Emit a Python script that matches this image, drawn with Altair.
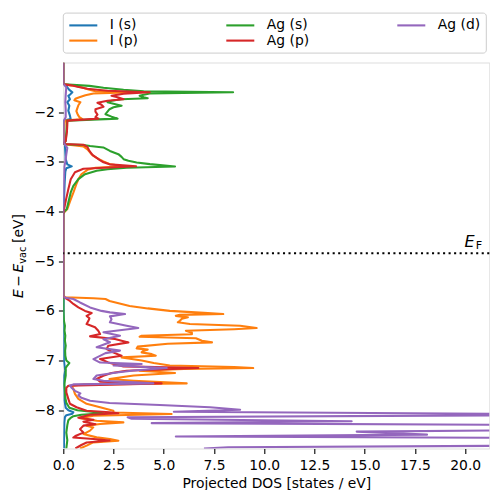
import altair as alt
import pandas as pd

# ---------------- data ----------------
SERIES = ["I (s)", "I (p)", "Ag (s)", "Ag (p)", "Ag (d)"]          # drawing + legend order
COLORS = {"I (s)": "#1f77b4", "I (p)": "#ff7f0e", "Ag (s)": "#2ca02c",
          "Ag (p)": "#d62728", "Ag (d)": "#9467bd"}

X_MAX = 21.2
Y_MIN, Y_MAX = -8.77, -1.0
E_FERMI = -4.84
X_TICKS = [0.0, 2.5, 5.0, 7.5, 10.0, 12.5, 15.0, 17.5, 20.0]
Y_TICKS = [-8, -7, -6, -5, -4, -3, -2]

# (energy [eV], projected DOS)
I_S = [(-1.00, 0), (-1.42, 0), (-1.44, 0.05), (-1.50, 0.2), (-1.55, 0.3), (-1.60, 0.45),
       (-1.64, 0.35), (-1.67, 0.25), (-1.74, 0.33), (-1.80, 0.2), (-1.87, 0.3), (-1.97, 0.25),
       (-2.07, 0.33), (-2.14, 0.37), (-2.17, 0.03), (-2.30, 0.02), (-2.50, 0.02), (-2.62, 0.03),
       (-2.66, 0.08), (-2.80, 0.1), (-2.95, 0.12), (-3.05, 0.2), (-3.09, 0.42), (-3.13, 0.15),
       (-3.20, 0.1), (-3.40, 0.07), (-3.70, 0.04), (-3.95, 0.02), (-4.05, 0), (-5.70, 0),
       (-5.75, 0.02), (-6.00, 0.01), (-6.50, 0.01), (-7.00, 0.03), (-7.15, 0.08), (-7.20, 0.1),
       (-7.30, 0.04), (-7.45, 0.03), (-7.50, 0.05), (-7.60, 0.05), (-7.80, 0.06), (-7.95, 0.12),
       (-8.00, 0.25), (-8.04, 0.5), (-8.07, 0.45), (-8.10, 0.15), (-8.14, 0.08), (-8.25, 0.05),
       (-8.50, 0.04), (-8.77, 0.03)]

I_P = [(-1.00, 0), (-1.42, 0), (-1.44, 0.05), (-1.47, 0.6), (-1.50, 0.9), (-1.55, 1.3),
       (-1.58, 1.6), (-1.60, 3.5), (-1.625, 1.5), (-1.66, 1.1), (-1.70, 0.8), (-1.73, 0.6),
       (-1.76, 0.55), (-1.80, 0.85), (-1.86, 0.75), (-1.92, 0.7), (-1.98, 0.65), (-2.05, 0.72),
       (-2.10, 0.8), (-2.14, 0.95), (-2.17, 0.08), (-2.40, 0.03), (-2.62, 0.03),
       (-2.645, 0.05), (-2.67, 0.6), (-2.69, 1.0), (-2.75, 1.2), (-2.82, 1.35), (-2.88, 1.5),
       (-2.94, 1.75), (-2.99, 2.0), (-3.05, 2.35), (-3.09, 3.0), (-3.12, 1.6), (-3.16, 1.2),
       (-3.25, 0.9), (-3.35, 0.75), (-3.45, 0.65), (-3.62, 0.5), (-3.80, 0.33), (-3.95, 0.2),
       (-4.00, 0.08), (-4.05, 0),
       (-5.70, 0), (-5.725, 0.1), (-5.745, 1.5), (-5.76, 2.1), (-5.80, 2.3), (-5.85, 2.8),
       (-5.90, 3.3), (-5.95, 4.2), (-6.00, 5.3), (-6.04, 7.0), (-6.064, 7.96), (-6.08, 5.8),
       (-6.10, 5.6), (-6.13, 6.2), (-6.16, 5.9), (-6.20, 5.8), (-6.23, 5.7), (-6.265, 6.3),
       (-6.30, 8.8), (-6.346, 9.62), (-6.37, 8.5), (-6.40, 6.1), (-6.44, 6.4), (-6.47, 6.4),
       (-6.50, 3.9), (-6.52, 3.8), (-6.55, 6.6), (-6.60, 6.9), (-6.634, 7.4), (-6.66, 5.2),
       (-6.72, 3.7), (-6.755, 3.65), (-6.78, 4.2), (-6.80, 4.0), (-6.835, 3.9), (-6.87, 4.4),
       (-6.902, 4.6), (-6.936, 2.9), (-6.97, 3.4), (-7.00, 3.9), (-7.05, 4.5), (-7.10, 5.3),
       (-7.13, 8.5), (-7.151, 9.45), (-7.17, 6.0), (-7.204, 3.8), (-7.23, 4.8), (-7.251, 5.56),
       (-7.30, 3.5), (-7.372, 2.3), (-7.405, 3.5), (-7.459, 6.14), (-7.48, 1.0), (-7.506, 0.4),
       (-7.57, 0.5), (-7.67, 0.58), (-7.77, 0.75), (-7.87, 1.16), (-7.94, 1.83), (-8.01, 2.49),
       (-8.045, 2.5), (-8.076, 5.39), (-8.11, 1.5), (-8.16, 0.83), (-8.21, 1.66), (-8.244, 2.99),
       (-8.277, 1.83), (-8.311, 1.16), (-8.345, 1.49), (-8.41, 1.33), (-8.48, 1.0),
       (-8.546, 1.66), (-8.579, 2.32), (-8.613, 2.74), (-8.646, 1.49), (-8.713, 1.16),
       (-8.77, 0.83)]

AG_S = [(-1.00, 0), (-1.42, 0), (-1.437, 0.05), (-1.47, 1.3), (-1.51, 2.0), (-1.55, 3.0),
        (-1.58, 4.0), (-1.60, 8.45), (-1.625, 4.3), (-1.65, 4.0), (-1.67, 3.8), (-1.70, 4.0),
        (-1.72, 4.2), (-1.74, 2.9), (-1.77, 2.4), (-1.80, 2.2), (-1.84, 2.6), (-1.87, 2.9),
        (-1.90, 2.5), (-1.94, 2.3), (-1.99, 2.2), (-2.04, 2.1), (-2.09, 2.4), (-2.13, 2.7),
        (-2.17, 0.2), (-2.25, 0.18), (-2.40, 0.15), (-2.58, 0.12), (-2.62, 0.03),
        (-2.644, 0.05), (-2.66, 1.0), (-2.68, 1.33), (-2.71, 1.99), (-2.78, 2.32),
        (-2.845, 2.74), (-2.90, 2.9), (-2.946, 3.0), (-2.979, 3.24), (-3.013, 3.65),
        (-3.046, 4.31), (-3.093, 5.56), (-3.12, 3.15), (-3.15, 2.2), (-3.18, 1.66),
        (-3.247, 1.08), (-3.348, 0.75), (-3.482, 0.5), (-3.616, 0.37), (-3.817, 0.25),
        (-3.952, 0.17), (-4.00, 0.05), (-4.05, 0),
        (-5.70, 0), (-6.00, 0.01), (-6.20, 0.03), (-6.30, 0.08), (-6.40, 0.06), (-6.50, 0.1),
        (-6.60, 0.08), (-6.70, 0.12), (-6.80, 0.09), (-6.90, 0.1), (-7.00, 0.15), (-7.05, 0.3),
        (-7.10, 0.2), (-7.15, 0.12), (-7.30, 0.12), (-7.40, 0.08), (-7.50, 0.05), (-7.60, 0.08),
        (-7.75, 0.1), (-7.85, 0.15), (-7.95, 0.3), (-8.00, 0.7), (-8.03, 1.4), (-8.06, 2.0),
        (-8.09, 0.9), (-8.12, 0.5), (-8.16, 0.35), (-8.20, 0.25), (-8.30, 0.2), (-8.45, 0.15),
        (-8.60, 0.2), (-8.77, 0.15)]

AG_P = [(-1.00, 0), (-1.42, 0), (-1.44, 0.05), (-1.46, 0.4), (-1.49, 0.7), (-1.53, 1.2),
        (-1.57, 2.2), (-1.60, 4.3), (-1.63, 3.0), (-1.67, 2.4), (-1.70, 2.7), (-1.74, 3.0),
        (-1.77, 2.2), (-1.81, 1.7), (-1.85, 1.9), (-1.89, 2.0), (-1.94, 1.6), (-1.99, 1.6),
        (-2.05, 1.7), (-2.10, 1.6), (-2.13, 1.75), (-2.17, 0.2), (-2.25, 0.2), (-2.40, 0.18),
        (-2.58, 0.12), (-2.62, 0.03),
        (-2.64, 0.05), (-2.655, 1.0), (-2.70, 1.2), (-2.78, 1.3), (-2.86, 1.45), (-2.96, 1.8),
        (-3.01, 2.0), (-3.05, 2.3), (-3.09, 3.62), (-3.14, 1.0), (-3.21, 0.58), (-3.35, 0.37),
        (-3.55, 0.25), (-3.75, 0.14), (-3.95, 0.04), (-4.05, 0),
        (-5.70, 0), (-5.729, 0.05), (-5.80, 0.33), (-5.86, 0.5), (-5.93, 0.75), (-6.00, 1.08),
        (-6.044, 1.41), (-6.10, 1.16), (-6.15, 1.3), (-6.20, 1.25), (-6.265, 1.16),
        (-6.33, 1.58), (-6.40, 1.74), (-6.466, 1.83), (-6.513, 1.33), (-6.567, 2.57),
        (-6.634, 3.24), (-6.70, 2.24), (-6.768, 2.16), (-6.84, 2.5), (-6.902, 2.9),
        (-6.97, 1.83), (-7.037, 2.24), (-7.117, 2.99), (-7.151, 6.72), (-7.204, 3.15),
        (-7.25, 2.4), (-7.305, 1.99), (-7.372, 1.66), (-7.425, 1.83), (-7.459, 4.89),
        (-7.506, 0.25), (-7.55, 0.15), (-7.64, 0.15), (-7.77, 0.25), (-7.87, 0.33),
        (-7.94, 0.66), (-8.01, 1.16), (-8.04, 2.3), (-8.06, 2.74), (-8.09, 1.33), (-8.15, 0.75),
        (-8.19, 1.5), (-8.23, 1.0), (-8.28, 1.6), (-8.31, 1.0), (-8.38, 0.83), (-8.45, 1.0),
        (-8.52, 0.6), (-8.55, 0.5), (-8.58, 1.5), (-8.61, 2.3), (-8.65, 1.16), (-8.70, 0.9),
        (-8.77, 0.6)]

AG_D = [(-1.00, 0), (-1.42, 0), (-1.44, 0.03), (-1.50, 0.15), (-1.65, 0.12), (-1.80, 0.1),
        (-1.95, 0.12), (-2.10, 0.12), (-2.17, 0.02), (-2.62, 0.02), (-2.64, 0.05),
        (-2.72, 0.2), (-2.85, 0.15), (-3.00, 0.1), (-3.10, 0.05), (-3.50, 0.02), (-4.05, 0),
        (-5.70, 0), (-5.729, 0.05), (-5.76, 0.5), (-5.83, 0.83), (-5.93, 1.33), (-6.00, 1.9),
        (-6.03, 2.32), (-6.064, 3.07), (-6.11, 2.32), (-6.17, 2.4), (-6.23, 2.32), (-6.30, 3.15),
        (-6.346, 3.73), (-6.43, 2.0), (-6.50, 2.82), (-6.57, 2.0), (-6.63, 2.32), (-6.73, 1.66),
        (-6.80, 2.82), (-6.85, 2.1), (-6.97, 1.5), (-7.04, 1.83), (-7.07, 3.9), (-7.10, 2.5),
        (-7.151, 5.15), (-7.20, 3.5), (-7.24, 2.66), (-7.30, 1.66), (-7.37, 1.5), (-7.405, 2.0),
        (-7.459, 4.48), (-7.48, 0.5), (-7.50, 0.33), (-7.54, 0.4), (-7.61, 0.58), (-7.66, 0.85),
        (-7.70, 0.75), (-7.75, 0.9), (-7.81, 1.33), (-7.855, 2.3), (-7.895, 4.8), (-7.94, 7.3),
        (-7.99, 8.8), (-8.03, 5.5), (-8.09, 28), (-8.14, 3.2), (-8.17, 3.4), (-8.22, 14.35),
        (-8.26, 4.4), (-8.30, 26), (-8.35, 22), (-8.40, 24), (-8.43, 14.6), (-8.49, 18.1),
        (-8.53, 5.6), (-8.56, 27), (-8.60, 23), (-8.64, 26), (-8.68, 22), (-8.71, 25),
        (-8.745, 8.2), (-8.77, 7.0)]

DATA = {"I (s)": I_S, "I (p)": I_P, "Ag (s)": AG_S, "Ag (p)": AG_P, "Ag (d)": AG_D}

rows = []
for name in SERIES:
    for i, (e, d) in enumerate(DATA[name]):
        rows.append({"orbital": name, "idx": i, "E": e, "DOS": d})
df = pd.DataFrame(rows)

# ---------------- styling ----------------
FONT = "DejaVu Sans"
FS = 13.9

x_scale = alt.Scale(domain=[0, X_MAX], nice=False, zero=False)
y_scale = alt.Scale(domain=[Y_MIN, Y_MAX], nice=False, zero=False)
color_scale = alt.Scale(domain=SERIES, range=[COLORS[s] for s in SERIES])

x_axis = alt.Axis(values=X_TICKS, format=".1f", title="Projected DOS [states / eV]",
                  titleFont=FONT, titleFontSize=FS, titleFontWeight="normal",
                  titleColor="black", titlePadding=4, labelFont=FONT, labelFontSize=FS,
                  labelColor="black", labelPadding=5, labelFlush=False, labelOverlap=False,
                  tickColor="black", tickSize=4.9, tickWidth=1.1, domain=False, grid=False)
y_axis = alt.Axis(values=Y_TICKS, format="d", title="", labelFont=FONT, labelFontSize=FS,
                  labelColor="black", labelPadding=4, labelFlush=False, labelOverlap=False,
                  tickColor="black", tickSize=4.9, tickWidth=1.1, domain=False, grid=False)
# legend: 3 columns, filled column by column; the line symbol starts at the left of its
# 12px symbol box and runs 28px to the right
legend = alt.Legend(title=None, orient="none", legendX=-0.5, legendY=-49.9, columns=3,
                    columnPadding=83, rowPadding=0.5, padding=5,
                    strokeColor="#cccccc", fillColor="white", cornerRadius=3,
                    symbolType="M-1,0H3.667", symbolSize=144, symbolStrokeWidth=2.1,
                    labelFont=FONT, labelFontSize=FS, labelColor="black", labelOffset=27)


def line_layer(name):
    return alt.Chart(df).transform_filter(alt.datum.orbital == name).mark_line(
        strokeWidth=2.08, clip=True, strokeJoin="round"
    ).encode(
        x=alt.X("DOS:Q", scale=x_scale, axis=x_axis),
        y=alt.Y("E:Q", scale=y_scale, axis=y_axis),
        color=alt.Color("orbital:N", scale=color_scale, legend=legend),
        order=alt.Order("idx:Q"),
    )


layers = [line_layer(n) for n in SERIES]

fermi = alt.Chart(pd.DataFrame({"E": [E_FERMI]})).mark_rule(
    color="black", strokeWidth=2.08, strokeDash=[2.08, 3.44]
).encode(y=alt.Y("E:Q", scale=y_scale, axis=y_axis))

# E_F label (data coordinates near the right edge)
EF_LABEL_X = 20.47
EF_LABEL_Y = -4.715
EF_SUB_X = 20.53
EF_SUB_Y = -4.755
ef_e = alt.Chart(pd.DataFrame({"x": [EF_LABEL_X], "y": [EF_LABEL_Y], "t": ["E"]})).mark_text(
    font=FONT, fontStyle="italic", fontSize=16, align="right", baseline="alphabetic", color="black"
).encode(x=alt.X("x:Q", scale=x_scale, axis=x_axis), y=alt.Y("y:Q", scale=y_scale, axis=y_axis),
         text="t:N")
ef_f = alt.Chart(pd.DataFrame({"x": [EF_SUB_X], "y": [EF_SUB_Y], "t": ["F"]})).mark_text(
    font=FONT, fontSize=11.2, align="left", baseline="alphabetic", color="black"
).encode(x=alt.X("x:Q", scale=x_scale, axis=x_axis), y=alt.Y("y:Q", scale=y_scale, axis=y_axis),
         text="t:N")

# y-axis title "E − E_vac [eV]" built from pieces (rotated)
TITLE_PIECES = [  # text, italic, size, pixel x (baseline), pixel y (start)
    ("E", True, FS, -40.5, 235.5),
    ("\u2212", False, FS, -40.5, 224.2),
    ("E", True, FS, -40.5, 210.0),
    ("vac", False, 9.7, -37.5, 201.2),
    ("[eV]", False, FS, -40.5, 180.5),
]
title_layers = []
for txt, ital, size, px, py in TITLE_PIECES:
    title_layers.append(
        alt.Chart(pd.DataFrame({"t": [txt]})).mark_text(
            font=FONT, fontStyle="italic" if ital else "normal", fontSize=size,
            angle=270, align="left", baseline="alphabetic", color="black"
        ).encode(x=alt.value(px), y=alt.value(py), text="t:N")
    )

chart = alt.layer(*layers, fermi, ef_e, ef_f, *title_layers).properties(
    width=426, height=386,
    autosize=alt.AutoSizeParams(type="none"),
    padding={"left": 55.3, "top": 54.5, "right": 0.5, "bottom": 41},
).configure_view(stroke="black", strokeWidth=1.1).configure(font=FONT)

chart.save("out.html", embed_options={"renderer": "svg", "actions": False})
